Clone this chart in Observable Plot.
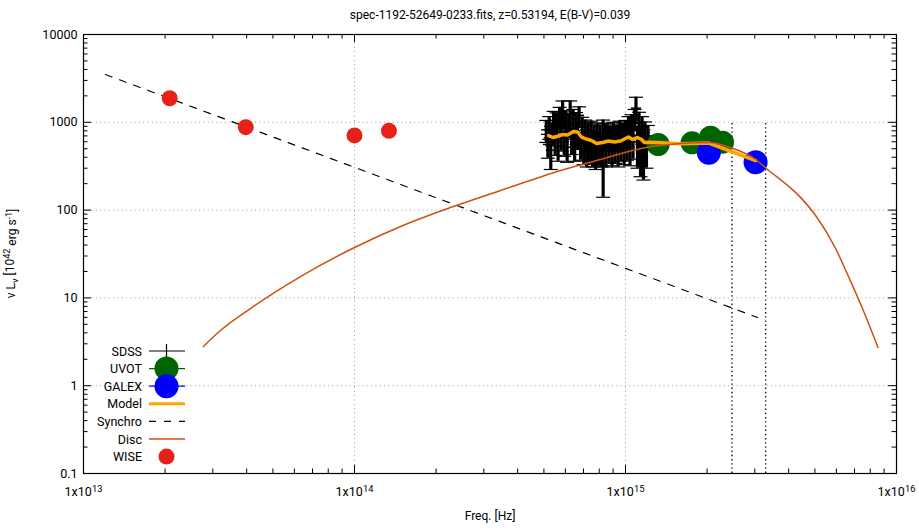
<!DOCTYPE html>
<html><head><meta charset="utf-8">
<script src="https://cdn.jsdelivr.net/npm/d3@7"></script>
<script src="https://cdn.jsdelivr.net/npm/@observablehq/plot@0.6"></script>
<style>body{margin:0;background:#fff;} #chart{width:919px;height:531px;}</style>
</head><body><div id="chart"></div>
<script>
const titleText = "spec-1192-52649-0233.fits, z=0.53194, E(B-V)=0.039";
const xLabel = "Freq. [Hz]";
const xTicks = [1e13, 1e14, 1e15, 1e16];
const xTickLabels = ["1x10^13", "1x10^14", "1x10^15", "1x10^16"];
const yTicks = [0.1, 1, 10, 100, 1000, 10000];
const yTickLabels = ["0.1", "1", "10", "100", "1000", "10000"];
const legendLabels = ["SDSS", "UVOT", "GALEX", "Model", "Synchro", "Disc", "WISE"];

const wiseFreq = [2.08e13, 3.97e13, 1.0e14, 1.34e14];
const wiseVal = [1880, 880, 708, 800];
const uvotFreq = [1.32e15, 1.76e15, 2.06e15, 2.28e15];
const uvotVal = [558, 583, 676, 593];
const galexFreq = [2.03e15, 3.02e15];
const galexVal = [450, 351];
const synchroFreq = [1.205e13, 3.07e15];
const synchroVal = [3500, 5.98];
const lymanFreq = [2.47e15, 3.29e15];
const lymanRange = [0.1, 1000];

const discFreq = [2.77e13, 3.20e13, 4.13e13, 6.32e13, 1.0e14, 1.48e14, 2.26e14, 3.46e14, 5.76e14, 8.09e14, 1.165e15, 1.60e15, 2.03e15, 2.44e15, 3.02e15, 3.31e15, 4.46e15, 5.03e15, 5.96e15, 6.65e15, 7.49e15, 8.16e15, 8.545e15];
const discVal = [2.80, 4.25, 7.57, 17.5, 37.5, 65.1, 107, 167, 283, 377, 510, 573, 589, 516, 377, 298, 136, 86.8, 36.5, 17.5, 7.57, 3.93, 2.72];

const modelFreq = [5.20e14, 5.42e14, 5.66e14, 5.86e14, 6.11e14, 6.43e14, 6.65e14, 6.88e14, 7.18e14, 7.49e14, 7.82e14, 8.23e14, 8.65e14, 9.11e14, 9.58e14, 1.0e15, 1.026e15, 1.061e15, 1.107e15, 1.146e15, 1.175e15, 1.237e15, 1.60e15, 2.03e15, 3.02e15];
const modelVal = [707, 671, 698, 726, 717, 786, 775, 680, 645, 620, 573, 589, 612, 597, 612, 654, 680, 637, 671, 637, 589, 593, 570, 581, 367];

const sdssFreq = [5.10e14, 5.17e14, 5.23e14, 5.30e14, 5.37e14, 5.43e14, 5.50e14, 5.57e14, 5.64e14, 5.71e14, 5.79e14, 5.86e14, 5.94e14, 6.01e14, 6.09e14, 6.17e14, 6.25e14, 6.33e14, 6.41e14, 6.49e14, 6.57e14, 6.66e14, 6.74e14, 6.83e14, 6.92e14, 7.01e14, 7.10e14, 7.19e14, 7.28e14, 7.37e14, 7.47e14, 7.56e14, 7.66e14, 7.76e14, 7.86e14, 7.96e14, 8.06e14, 8.16e14, 8.27e14, 8.37e14, 8.48e14, 8.59e14, 8.70e14, 8.81e14, 8.92e14, 9.04e14, 9.15e14, 9.27e14, 9.39e14, 9.51e14, 9.63e14, 9.75e14, 9.88e14, 1.000e15, 1.013e15, 1.026e15, 1.039e15, 1.052e15, 1.066e15, 1.080e15, 1.093e15, 1.107e15, 1.122e15, 1.136e15, 1.151e15, 1.165e15, 1.180e15, 1.195e15, 1.210e15];
const sdssVal = [820, 560, 900, 480, 760, 1050, 620, 980, 540, 1150, 700, 1300, 600, 1050, 520, 950, 1250, 640, 1100, 560, 1000, 720, 1200, 560, 880, 500, 820, 470, 760, 520, 800, 480, 720, 450, 760, 500, 700, 480, 600, 740, 470, 760, 520, 700, 470, 780, 520, 720, 480, 800, 540, 760, 500, 820, 560, 900, 520, 950, 600, 1100, 1450, 600, 1000, 560, 880, 520, 760, 500, 700];
const sdssErr = [230, 170, 260, 190, 220, 280, 200, 300, 180, 330, 230, 450, 190, 300, 170, 280, 500, 210, 300, 200, 290, 230, 300, 190, 260, 170, 240, 160, 230, 180, 230, 170, 210, 160, 220, 180, 210, 170, 460, 220, 160, 220, 170, 200, 150, 220, 180, 210, 170, 230, 180, 220, 170, 230, 190, 260, 200, 270, 220, 300, 480, 300, 300, 320, 280, 300, 250, 200, 220];

const zip = (xs, ys) => xs.map((x, i) => ({x, y: ys[i]}));
const wise = zip(wiseFreq, wiseVal);
const uvot = zip(uvotFreq, uvotVal);
const galex = zip(galexFreq, galexVal);
const synchro = zip(synchroFreq, synchroVal);
const disc = zip(discFreq, discVal);
const model = zip(modelFreq, modelVal);
const sdss = sdssFreq.map((x, i) => ({x, v: sdssVal[i], e: sdssErr[i]}));
const xLab = new Map(xTicks.map((t, i) => [t, xTickLabels[i]]));
const yLab = new Map(yTicks.map((t, i) => [t, yTickLabels[i]]));

const minorX = [], minorY = [];
for (let d = 13; d < 16; d++) for (let m = 2; m <= 9; m++) minorX.push(m * 10 ** d);
for (let d = -1; d < 4; d++) for (let m = 2; m <= 9; m++) minorY.push(m * 10 ** d);

const W = 919, H = 531, mL = 83, mR = 23, mT = 34, mB = 58;
const fw = W - mL - mR, fh = H - mT - mB;
const MAJ = 8, MIN = 4.5;

const hline = {draw(ctx, size) { const r = Math.sqrt(size / Math.PI); ctx.moveTo(-r, 0); ctx.lineTo(r, 0); }};

const font = "Roboto, 'Noto Sans', sans-serif";
const plot = Plot.plot({
  width: W, height: H,
  marginLeft: mL, marginRight: mR, marginTop: mT, marginBottom: mB,
  x: {type: "log", domain: [1e13, 1e16], axis: null},
  y: {type: "log", domain: [0.1, 1e4], axis: null},
  style: {fontFamily: font, fontSize: "12px", color: "black", background: "white"},
  marks: [
    Plot.ruleX([1e14, 1e15], {stroke: "#999", strokeWidth: 1, strokeDasharray: "1,3.3"}),
    Plot.ruleY([1, 10, 100, 1000], {stroke: "#999", strokeWidth: 1, strokeDasharray: "1,3.3"}),
    Plot.ruleX(lymanFreq, {x: d => d, y1: lymanRange[0], y2: lymanRange[1], stroke: "#111", strokeWidth: 1.4, strokeDasharray: "1.4,2.8"}),
    // ticks (inward, mirrored)
    Plot.ruleX(minorX, {x: d => d, insetTop: fh - MIN, stroke: "black"}),
    Plot.ruleX(minorX, {x: d => d, insetBottom: fh - MIN, stroke: "black"}),
    Plot.ruleX(xTicks, {x: d => d, insetTop: fh - MAJ, stroke: "black"}),
    Plot.ruleX(xTicks, {x: d => d, insetBottom: fh - MAJ, stroke: "black"}),
    Plot.ruleY(minorY, {y: d => d, insetRight: fw - MIN, stroke: "black"}),
    Plot.ruleY(minorY, {y: d => d, insetLeft: fw - MIN, stroke: "black"}),
    Plot.ruleY(yTicks, {y: d => d, insetRight: fw - MAJ, stroke: "black"}),
    Plot.ruleY(yTicks, {y: d => d, insetLeft: fw - MAJ, stroke: "black"}),
    Plot.axisX(xTicks, {tickSize: 0, tickPadding: 14, tickFormat: d => xLab.get(d), fontSize: 12.5, label: null}),
    Plot.axisY(yTicks, {tickSize: 0, tickPadding: 6, tickFormat: d => yLab.get(d), fontSize: 12.5, label: null}),
    // SDSS
    Plot.ruleX(sdss, {x: "x", y1: d => d.v - d.e, y2: d => d.v + d.e, stroke: "black", strokeWidth: 3.2}),
    Plot.dot(sdss, {x: "x", y: d => d.v - d.e, symbol: hline, r: 7, stroke: "black", fill: "none", strokeWidth: 1.2}),
    Plot.dot(sdss, {x: "x", y: d => d.v + d.e, symbol: hline, r: 7, stroke: "black", fill: "none", strokeWidth: 1.2}),
    Plot.dot(sdss, {x: "x", y: "v", symbol: hline, r: 5, stroke: "black", fill: "none", strokeWidth: 1.5}),
    // UVOT, GALEX
    Plot.dot(uvot, {x: "x", y: "y", r: 11.5, fill: "#006400", stroke: "none"}),
    Plot.dot(galex, {x: "x", y: "y", r: 12, fill: "#0000ff", stroke: "none"}),
    // Model, Synchro, Disc
    Plot.line(model, {x: "x", y: "y", stroke: "#ffa500", strokeWidth: 3.5}),
    Plot.line(synchro, {x: "x", y: "y", stroke: "black", strokeWidth: 1.2, strokeDasharray: "7,8"}),
    Plot.line(disc, {x: "x", y: "y", stroke: "#d05010", strokeWidth: 1.5, curve: "monotone-x"}),
    // WISE
    Plot.dot(wise, {x: "x", y: "y", r: 8, fill: "#e6211a", stroke: "none"}),
    Plot.frame({stroke: "black", strokeWidth: 1.2}),
    Plot.text([titleText], {frameAnchor: "top", dy: -24, fontSize: 12, text: d => d}),
    Plot.text([xLabel], {frameAnchor: "bottom", dy: 46, fontSize: 12, text: d => d})
  ]
});

const svg = d3.select(plot);
// superscripts on x tick labels
svg.selectAll('[aria-label="x-axis tick label"] text').each(function () {
  const s = this.textContent; const [base, exp] = s.split("^");
  if (exp === undefined) return;
  const t = d3.select(this); t.text("");
  t.append("tspan").text(base);
  t.append("tspan").attr("dy", "-0.5em").attr("font-size", "0.75em").text(exp);
});
// y axis title
const yl = svg.append("text").attr("transform", `translate(15,${mT + fh / 2}) rotate(-90)`)
  .attr("text-anchor", "middle").attr("font-size", 12).attr("font-family", font).attr("fill", "black");
yl.append("tspan").text("\u03bd L");
yl.append("tspan").attr("dy", "0.3em").attr("font-size", "0.8em").text("\u03bd");
yl.append("tspan").attr("dy", "-0.3em").text(" [10");
yl.append("tspan").attr("dy", "-0.45em").attr("font-size", "0.75em").text("42");
yl.append("tspan").attr("dy", "0.45em").text(" erg s");
yl.append("tspan").attr("dy", "-0.45em").attr("font-size", "0.75em").text("-1");
yl.append("tspan").attr("dy", "0.45em").text("]");

// legend
const lg = svg.append("g").attr("font-family", font).attr("font-size", 12.5);
const lx0 = 149, lx1 = 185, lxc = 166.5, ly0 = 351, lstep = 17.6;
legendLabels.forEach((lab, i) => {
  const y = ly0 + i * lstep;
  lg.append("text").attr("x", 142).attr("y", y + 4.5).attr("text-anchor", "end").attr("fill", "black").text(lab);
  const line = (color, w, dash) => lg.append("line").attr("x1", lx0).attr("x2", lx1).attr("y1", y).attr("y2", y)
    .attr("stroke", color).attr("stroke-width", w).attr("stroke-dasharray", dash || null);
  if (lab === "SDSS") { line("black", 1.2); lg.append("line").attr("x1", lxc).attr("x2", lxc).attr("y1", y - 7).attr("y2", y + 7).attr("stroke", "black").attr("stroke-width", 1.2); }
  if (lab === "UVOT") { line("#006400", 1.2); lg.append("circle").attr("cx", lxc).attr("cy", y).attr("r", 12).attr("fill", "#006400"); }
  if (lab === "GALEX") { line("#0000ff", 1.2); lg.append("circle").attr("cx", lxc).attr("cy", y).attr("r", 12).attr("fill", "#0000ff"); }
  if (lab === "Model") line("#ffa500", 3);
  if (lab === "Synchro") line("black", 1.2, "7,8");
  if (lab === "Disc") line("#d05010", 1.5);
  if (lab === "WISE") lg.append("circle").attr("cx", lxc).attr("cy", y).attr("r", 8).attr("fill", "#e6211a");
});

document.getElementById("chart").appendChild(plot);
</script></body></html>
